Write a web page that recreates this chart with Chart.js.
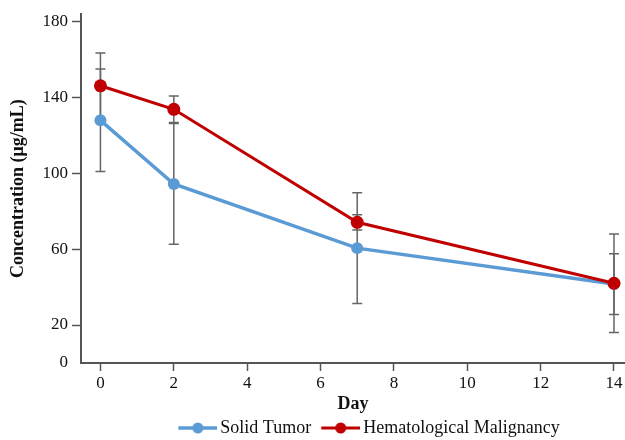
<!DOCTYPE html>
<html>
<head>
<meta charset="utf-8">
<script src="https://cdn.jsdelivr.net/npm/chart.js@4"></script>
<style>
  html, body { margin: 0; padding: 0; background: #fff; }
  #wrap { width: 625px; height: 440px; }
</style>
</head>
<body>
<div id="wrap"><canvas id="myChart" width="625" height="440"></canvas></div>
<script>
// data
var days = [0, 2, 7, 14];
var solidTumor = [127.8, 94.3, 60.5, 41.6];
var solidTumorSd = [27, 31.8, 29.2, 16];
var hemaMalig = [146, 133.6, 74.1, 42];
var hemaMaligSd = [17.3, 7, 4, 26];
var yTicks = [0, 20, 60, 100, 140, 180];
var xTicks = [0, 2, 4, 6, 8, 10, 12, 14];

var blue = '#5B9BD5';
var red = '#C00000';
var axisColor = '#555555';

function toPoints(vals) {
    return days.map(function (d, i) { return { x: d, y: vals[i] }; });
}

// little line+dot picture for the legend (left part of the image is empty)
function legendIcon(color, lw) {
    var c = document.createElement('canvas');
    c.width = 51; c.height = 14;
    var g = c.getContext('2d');
    g.strokeStyle = color;
    g.lineWidth = lw;
    g.beginPath(); g.moveTo(12, 7); g.lineTo(51, 7); g.stroke();
    g.fillStyle = color;
    g.beginPath(); g.arc(31.5, 7, 5.5, 0, Math.PI * 2); g.fill();
    return c;
}
var icons = [legendIcon(blue, 3.5), legendIcon(red, 3)];

// error bars, drawn under the lines
var errorBars = {
    id: 'errorBars',
    beforeDatasetsDraw: function (chart) {
        var ctx = chart.ctx;
        var xs = chart.scales.x, ys = chart.scales.y;
        var sets = [[solidTumor, solidTumorSd], [hemaMalig, hemaMaligSd]];
        ctx.save();
        ctx.strokeStyle = '#666666';
        ctx.lineWidth = 1.5;
        sets.forEach(function (s) {
            days.forEach(function (d, i) {
                var px = xs.getPixelForValue(d);
                var top = ys.getPixelForValue(s[0][i] + s[1][i]);
                var bot = ys.getPixelForValue(s[0][i] - s[1][i]);
                ctx.beginPath();
                ctx.moveTo(px, top); ctx.lineTo(px, bot);
                ctx.moveTo(px - 5, top); ctx.lineTo(px + 5, top);
                ctx.moveTo(px - 5, bot); ctx.lineTo(px + 5, bot);
                ctx.stroke();
            });
        });
        ctx.restore();
    }
};

var legendShift = {
    id: 'legendShift',
    afterLayout: function (chart) {
        chart.legend.left += 13;
        chart.legend.right += 13;
    }
};

var ctx = document.getElementById('myChart').getContext('2d');
var myChart = new Chart(ctx, {
    type: 'line',
    data: {
        datasets: [{
            label: 'Solid Tumor',
            data: toPoints(solidTumor),
            order: 2,
            borderColor: blue,
            backgroundColor: blue,
            borderWidth: 3.5,
            pointRadius: 6,
            pointBorderWidth: 0,
            pointBackgroundColor: blue
        }, {
            label: 'Hematological Malignancy',
            data: toPoints(hemaMalig),
            order: 1,
            borderColor: red,
            backgroundColor: red,
            borderWidth: 3,
            pointRadius: 6.5,
            pointBorderWidth: 0,
            pointBackgroundColor: red
        }]
    },
    options: {
        responsive: false,
        animation: false,
        layout: { autoPadding: false, padding: { top: 14, right: 0, left: 0, bottom: -7 } },
        scales: {
            x: {
                type: 'linear',
                min: -0.53,
                max: 14.3,
                afterBuildTicks: function (s) { s.ticks = xTicks.map(function (v) { return { value: v }; }); },
                afterFit: function (s) { s.height = 52; s.paddingLeft = 0; s.paddingRight = 0; },
                grid: { drawOnChartArea: false, drawTicks: true, tickLength: 8, tickColor: axisColor, tickWidth: 1.5 },
                border: { display: true, color: axisColor, width: 2 },
                ticks: { color: '#111', padding: 2, font: { family: 'Liberation Serif', size: 17 }, maxRotation: 0 },
                title: { display: true, text: 'Day', color: '#111', padding: { top: 0, bottom: 0 },
                         font: { family: 'Liberation Serif', size: 18, weight: 'bold' } }
            },
            y: {
                min: 0,
                max: 183.7,
                afterBuildTicks: function (s) { s.ticks = yTicks.map(function (v) { return { value: v }; }); },
                afterFit: function (s) { s.width = 81; },
                grid: {
                    drawOnChartArea: false, drawTicks: true, tickLength: 9, tickWidth: 1.5,
                    tickColor: function (c) { return c.tick && c.tick.value === 0 ? 'rgba(0,0,0,0)' : axisColor; }
                },
                border: { display: true, color: axisColor, width: 2 },
                ticks: { color: '#111', padding: 4, font: { family: 'Liberation Serif', size: 17 } },
                title: { display: true, text: 'Concentration (μg/mL)', color: '#111', padding: { top: 8, bottom: 0 },
                         font: { family: 'Liberation Serif', size: 18, weight: 'bold' } }
            }
        },
        plugins: {
            tooltip: { enabled: false },
            legend: {
                position: 'bottom',
                fullSize: false,
                labels: {
                    usePointStyle: true,
                    pointStyleWidth: 39,
                    padding: 4,
                    color: '#111',
                    font: { family: 'Liberation Serif', size: 18 },
                    generateLabels: function (chart) {
                        var items = Chart.defaults.plugins.legend.labels.generateLabels(chart);
                        items.sort(function (a, b) { return a.datasetIndex - b.datasetIndex; });
                        items.forEach(function (it) { it.pointStyle = icons[it.datasetIndex]; });
                        return items;
                    }
                }
            }
        }
    },
    plugins: [errorBars, legendShift]
});
</script>
</body>
</html>
